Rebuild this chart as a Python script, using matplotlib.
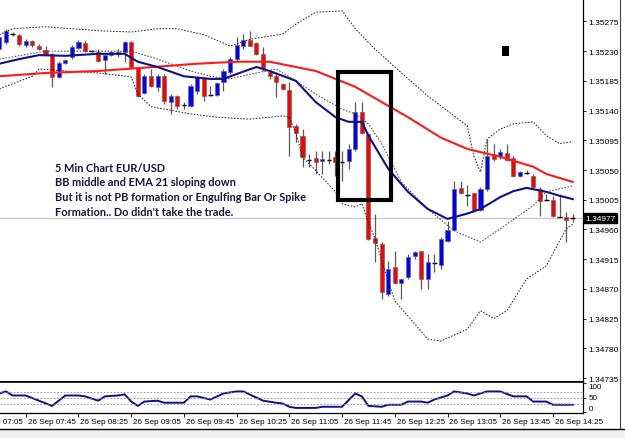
import numpy as np
import matplotlib.pyplot as plt
import matplotlib.transforms as mtransforms
from matplotlib.patches import Rectangle

plt.rcParams['font.family'] = ['Liberation Sans', 'DejaVu Sans']

# EUR/USD M5, bar 0 = 26 Sep 07:25
opens = [1.35233, 1.35244, 1.35256, 1.35255, 1.35239, 1.35245, 1.35238, 1.35232, 1.35226, 1.35191,
         1.35212, 1.35221, 1.35235, 1.35242, 1.35230, 1.35229, 1.35217, 1.35224, 1.35226, 1.35229,
         1.35244, 1.35205, 1.35167, 1.35192, 1.35176, 1.35192, 1.35153, 1.35162, 1.35148, 1.35147,
         1.35170, 1.35189, 1.35164, 1.35164, 1.35183, 1.35199, 1.35218, 1.35238, 1.35247, 1.35242,
         1.35226, 1.35199, 1.35192, 1.35180, 1.35171, 1.35117, 1.35102, 1.35065, 1.35068, 1.35064,
         1.35065, 1.35070, 1.35062, 1.35064, 1.35082, 1.35138, 1.35105, 1.34947, 1.34938, 1.34862,
         1.34903, 1.34879, 1.34888, 1.34920, 1.34928, 1.34885, 1.34909, 1.34906, 1.34943, 1.34959,
         1.35023, 1.35012, 1.35015, 1.34990, 1.35021, 1.35074, 1.35071, 1.35076, 1.35068, 1.35041,
         1.35046, 1.35041, 1.35021, 1.35005, 1.35005, 1.34979, 1.34979, 1.34977]
highs = [1.35255, 1.35264, 1.35259, 1.35256, 1.35248, 1.35247, 1.35241, 1.35238, 1.35227, 1.35215,
         1.35218, 1.35239, 1.35247, 1.35245, 1.35232, 1.35233, 1.35226, 1.35230, 1.35233, 1.35245,
         1.35245, 1.35206, 1.35195, 1.35203, 1.35195, 1.35195, 1.35165, 1.35164, 1.35153, 1.35180,
         1.35192, 1.35191, 1.35177, 1.35183, 1.35203, 1.35221, 1.35251, 1.35256, 1.35261, 1.35244,
         1.35236, 1.35200, 1.35195, 1.35182, 1.35183, 1.35120, 1.35112, 1.35074, 1.35079, 1.35079,
         1.35079, 1.35079, 1.35079, 1.35090, 1.35153, 1.35153, 1.35106, 1.34984, 1.34941, 1.34912,
         1.34928, 1.34885, 1.34923, 1.34928, 1.34928, 1.34923, 1.34923, 1.34949, 1.34973, 1.35033,
         1.35033, 1.35027, 1.35015, 1.35024, 1.35097, 1.35090, 1.35082, 1.35090, 1.35071, 1.35049,
         1.35050, 1.35044, 1.35024, 1.35014, 1.35011, 1.35014, 1.34987, 1.34984]
lows = [1.35230, 1.35241, 1.35253, 1.35238, 1.35236, 1.35236, 1.35232, 1.35224, 1.35176, 1.35189,
        1.35211, 1.35218, 1.35233, 1.35229, 1.35229, 1.35214, 1.35195, 1.35223, 1.35221, 1.35214,
        1.35205, 1.35161, 1.35165, 1.35176, 1.35170, 1.35150, 1.35135, 1.35142, 1.35142, 1.35146,
        1.35165, 1.35155, 1.35162, 1.35162, 1.35170, 1.35195, 1.35214, 1.35233, 1.35238, 1.35224,
        1.35200, 1.35188, 1.35161, 1.35171, 1.35071, 1.35093, 1.35055, 1.35055, 1.35044, 1.35044,
        1.35059, 1.35041, 1.35033, 1.35052, 1.35079, 1.35105, 1.34944, 1.34911, 1.34855, 1.34859,
        1.34878, 1.34855, 1.34885, 1.34915, 1.34870, 1.34870, 1.34896, 1.34900, 1.34941, 1.34958,
        1.35014, 1.34996, 1.34987, 1.34988, 1.35018, 1.35064, 1.35067, 1.35064, 1.35040, 1.35040,
        1.35044, 1.35023, 1.34981, 1.35003, 1.34979, 1.34979, 1.34941, 1.34971]
closes = [1.35251, 1.35261, 1.35256, 1.35241, 1.35245, 1.35239, 1.35233, 1.35226, 1.35191, 1.35212,
          1.35217, 1.35236, 1.35244, 1.35230, 1.35230, 1.35215, 1.35224, 1.35229, 1.35229, 1.35244,
          1.35206, 1.35162, 1.35192, 1.35177, 1.35192, 1.35155, 1.35162, 1.35147, 1.35148, 1.35177,
          1.35191, 1.35162, 1.35164, 1.35182, 1.35200, 1.35218, 1.35239, 1.35247, 1.35238, 1.35226,
          1.35205, 1.35192, 1.35183, 1.35173, 1.35115, 1.35106, 1.35070, 1.35065, 1.35062, 1.35067,
          1.35065, 1.35062, 1.35062, 1.35082, 1.35138, 1.35106, 1.34946, 1.34940, 1.34865, 1.34900,
          1.34879, 1.34885, 1.34918, 1.34926, 1.34885, 1.34911, 1.34909, 1.34946, 1.34959, 1.35021,
          1.35015, 1.35012, 1.34990, 1.35021, 1.35071, 1.35067, 1.35077, 1.35065, 1.35041, 1.35047,
          1.35046, 1.35024, 1.35003, 1.35005, 1.34981, 1.34979, 1.34974, 1.34977]

# indicator lines, (bar index, price) points
ema_idx = [0, 3, 6, 10, 15, 19, 21, 24, 28, 32, 34, 37, 39, 41, 45, 48, 51, 53, 55, 56, 59, 62, 65,
           68, 71, 73, 76, 78, 80, 83, 85, 87]
ema_val = [1.35211, 1.35218, 1.35224, 1.35223, 1.35226, 1.35226, 1.35214, 1.35206, 1.35192, 1.35188,
           1.35188, 1.35199, 1.35206, 1.35200, 1.35185, 1.35153, 1.35130, 1.35123, 1.35123, 1.35102,
           1.35052, 1.35017, 1.34991, 1.34976, 1.34984, 1.34991, 1.35009, 1.35018, 1.35023, 1.35017,
           1.35011, 1.35006]
slow_idx = [0, 7, 15, 22, 30, 36, 41, 44, 48, 51, 54, 58, 62, 67, 71, 76, 81, 83, 87]
slow_val = [1.35192, 1.35197, 1.35200, 1.35205, 1.35211, 1.35214, 1.35214, 1.35208, 1.35200, 1.35188,
            1.35176, 1.35153, 1.35130, 1.35099, 1.35082, 1.35070, 1.35055, 1.35044, 1.35032]
bb_up_idx = [0, 2, 7, 15, 20, 24, 27, 31, 35, 38, 43, 45, 48, 52, 54, 57, 60, 65, 71, 72, 73, 74, 76,
             78, 81, 83, 85, 87]
bb_up_val = [1.35255, 1.35264, 1.35267, 1.35261, 1.35259, 1.35264, 1.35264, 1.35255, 1.35238, 1.35248,
             1.35256, 1.35271, 1.35289, 1.35291, 1.35264, 1.35233, 1.35206, 1.35162, 1.35117, 1.35071,
             1.35047, 1.35097, 1.35112, 1.35120, 1.35123, 1.35102, 1.35090, 1.35093]
bb_mid_idx = [0, 7, 20, 24, 29, 32, 35, 38, 42, 45, 48, 52, 54, 56, 58, 61, 65, 69, 73, 76, 81, 83, 87]
bb_mid_val = [1.35218, 1.35230, 1.35230, 1.35218, 1.35200, 1.35192, 1.35188, 1.35195, 1.35203, 1.35185,
              1.35165, 1.35142, 1.35135, 1.35120, 1.35090, 1.35032, 1.34991, 1.34958, 1.34941, 1.34961,
              1.34996, 1.35017, 1.35026]
bb_lo_idx = [0, 5, 6, 10, 15, 20, 21, 23, 29, 33, 38, 43, 44, 45, 46, 48, 51, 52, 54, 55, 56, 57, 59,
             60, 65, 67, 71, 73, 75, 77, 80, 83, 86, 87]
bb_lo_val = [1.35173, 1.35192, 1.35203, 1.35200, 1.35197, 1.35191, 1.35165, 1.35146, 1.35135, 1.35130,
             1.35127, 1.35132, 1.35130, 1.35105, 1.35070, 1.35049, 1.35017, 1.34999, 1.34994, 1.34999,
             1.34971, 1.34946, 1.34881, 1.34852, 1.34794, 1.34791, 1.34809, 1.34837, 1.34825, 1.34837,
             1.34885, 1.34905, 1.34961, 1.34968]

rsi_idx = [0, 1, 2, 4, 6, 8, 9, 10, 12, 13, 15, 16, 18, 19, 20, 21, 22, 24, 25, 28, 29, 30, 32, 34,
           36, 37, 40, 42, 43, 44, 45, 48, 49, 52, 54, 55, 56, 58, 59, 61, 62, 64, 65, 66, 68, 69,
           71, 72, 74, 76, 78, 80, 81, 83, 84, 87]
rsi_val = [65, 72, 58, 58, 40, 22, 40, 58, 58, 55, 40, 55, 58, 62, 37, 22, 37, 40, 33, 33, 55, 55, 44,
           65, 72, 72, 40, 33, 30, 19, 15, 15, 19, 19, 65, 55, 22, 19, 26, 26, 37, 37, 33, 44, 58, 72,
           65, 58, 72, 72, 55, 55, 37, 37, 26, 26]

price_ticks = [1.34735, 1.34780, 1.34825, 1.34870, 1.34915, 1.34960, 1.35005, 1.35050, 1.35095,
               1.35140, 1.35185, 1.35230, 1.35275]
bid = 1.34977
time_idx = [-4, 4, 12, 20, 28, 36, 44, 52, 60, 68, 76, 84]
time_labels = ['26 Sep 07:05', '26 Sep 07:45', '26 Sep 08:25', '26 Sep 09:05', '26 Sep 09:45',
               '26 Sep 10:25', '26 Sep 11:05', '26 Sep 11:45', '26 Sep 12:25', '26 Sep 13:05',
               '26 Sep 13:45', '26 Sep 14:25']
note = ["5 Min Chart EUR/USD",
        "BB middle and EMA 21 sloping down",
        "But it is not PB formation or Engulfing Bar Or Spike",
        "Formation.. Do didn't take the trade."]

W, H = 625, 439
fig = plt.figure(figsize=(W / 100, H / 100), dpi=100)


def box(x0, y0, x1, y1):
    return [x0 / W, 1 - y1 / H, (x1 - x0) / W, (y1 - y0) / H]


ax = fig.add_axes(box(0, 0, 583, 383))
axr = fig.add_axes(box(0, 383, 583, 414))

o = np.array(opens); h = np.array(highs); l = np.array(lows); c = np.array(closes)
x = np.arange(len(o))
up = c > o
dn = c < o
dj = c == o

ax.axhline(bid, color='#c8c8c8', lw=1, zorder=1)
ax.vlines(x, l, h, color='#5a5a5a', lw=0.9, zorder=2)
ax.bar(x[up], (c - o)[up], bottom=o[up], width=0.62, color='#0000ff', edgecolor='#6a6a6a', lw=0.5, zorder=3)
ax.bar(x[dn], (o - c)[dn], bottom=c[dn], width=0.62, color='#ff0000', edgecolor='#6a6a6a', lw=0.5, zorder=3)
ax.hlines(c[dj], x[dj] - 0.35, x[dj] + 0.35, color='black', lw=1, zorder=3)

dash = (0, (1.6, 1.6))
ax.plot(bb_up_idx, bb_up_val, color='#202020', lw=0.7, ls=dash, zorder=4)
ax.plot(bb_mid_idx, bb_mid_val, color='#404040', lw=0.7, ls=dash, zorder=4)
ax.plot(bb_lo_idx, bb_lo_val, color='#202020', lw=0.7, ls=dash, zorder=4)
ax.plot(slow_idx, slow_val, color='#ff1a1a', lw=1.5, zorder=5)
ax.plot(ema_idx, ema_val, color='#10108c', lw=1.5, zorder=5)

ax.add_patch(Rectangle((51.4, 1.35005), 8.0, 0.00193, fill=False, ec='black', lw=3, zorder=6))
ax.add_patch(Rectangle((76.3, 1.35223), 1.0, 0.00015, fc='black', ec='black', lw=0, zorder=6))

ax.set_xlim(0.09, 88.56)
ax.set_ylim(1.34729, 1.35309)
ax.set_yticks(price_ticks)
ax.set_yticklabels([f'{p:.5f}' for p in price_ticks])
ax.yaxis.tick_right()
ax.tick_params(axis='y', direction='out', length=2.5, width=0.6, labelsize=6, pad=1.5)
ax.tick_params(axis='x', bottom=False, labelbottom=False)
for s in ['left', 'top']:
    ax.spines[s].set_visible(False)
ax.spines['right'].set_linewidth(0.9)
ax.spines['bottom'].set_linewidth(1.2)

tr = mtransforms.blended_transform_factory(ax.transAxes, ax.transData)
ax.text(1.004, bid, f'{bid:.5f}', transform=tr, ha='left', va='center', fontsize=6, color='white',
        bbox=dict(fc='black', ec='black', pad=1.2), zorder=10, clip_on=False)

for k, line in enumerate(note):
    fig.text(55 / W, 1 - (168 + 14.8 * k) / H, line, ha='left', va='center', fontsize=7.9,
             family=['Lato', 'DejaVu Sans'], weight='bold', color='#15153a')

# RSI window
axr.plot(rsi_idx, rsi_val, color='#10108c', lw=1.4)
for lev in [30, 50, 70]:
    axr.axhline(lev, color='#8c8c8c', lw=0.6, ls=(0, (2, 2)))
axr.set_xlim(0.09, 88.56)
axr.set_ylim(-2.5, 104.6)
axr.set_yticks([0, 50, 100])
axr.set_yticklabels(['0', '50', '100'])
axr.yaxis.tick_right()
axr.tick_params(axis='y', direction='out', length=2.5, width=0.6, labelsize=5.8, pad=1.5)
for t, va in zip(axr.get_yticklabels(), ['bottom', 'center', 'top']):
    t.set_va(va)
axr.set_xticks([i for i in time_idx if i >= 0])
axr.tick_params(axis='x', direction='out', length=3, width=0.6, labelbottom=False)
axr.spines['left'].set_visible(False)
axr.spines['top'].set_linewidth(1.2)
axr.spines['right'].set_linewidth(0.9)
axr.spines['bottom'].set_linewidth(0.9)
trx = mtransforms.blended_transform_factory(axr.transData, axr.transAxes)
for i, lab in zip(time_idx, time_labels):
    axr.text(i + 0.3, -0.26, lab, transform=trx, ha='left', va='center', fontsize=5.8, clip_on=False)

# window frame on the right and status strip at the bottom
fig.add_artist(plt.Line2D([620 / W, 620 / W], [9 / H, 1], transform=fig.transFigure, color='#404040', lw=0.8))
fig.add_artist(Rectangle((0, 0), 1, 9 / H, transform=fig.transFigure, fc='#f0f0f0', ec='none'))
fig.add_artist(plt.Line2D([0, 1], [9 / H, 9 / H], transform=fig.transFigure, color='black', lw=1))

fig.savefig('out.png', dpi=100)
